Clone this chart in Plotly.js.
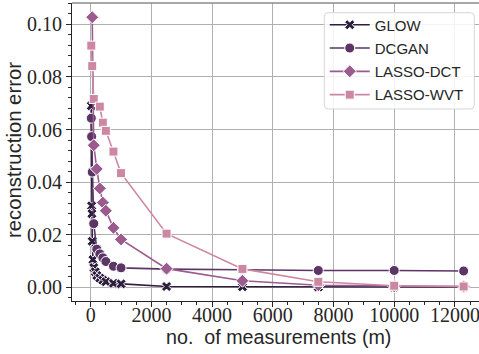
<!DOCTYPE html>
<html>
<head>
<meta charset="utf-8">
<script src="https://cdn.plot.ly/plotly-3.0.1.min.js"></script>
<style>html,body{margin:0;padding:0;background:#fff;}#chart{width:479px;height:354px;}</style>
</head>
<body>
<div id="chart"></div>
<script>
// Series data (x = number of measurements m, y = reconstruction error)
const glowM   = [20, 30, 40, 50, 75, 100, 150, 200, 300, 400, 500, 750, 1000, 2500, 5000, 7500, 10000, 12288];
const glowErr = [0.069, 0.031, 0.028, 0.0175, 0.0105, 0.0075, 0.0059, 0.0045, 0.0035, 0.0027, 0.0021, 0.0015, 0.0013, 0.0003, 0.0002, 0.0001, 0.0001, 0.0001];

const dcganM   = [20, 30, 50, 100, 200, 300, 400, 500, 750, 1000, 2500, 5000, 7500, 10000, 12288];
const dcganErr = [0.0643, 0.0573, 0.0438, 0.0242, 0.0145, 0.0127, 0.0112, 0.0098, 0.0080, 0.0074, 0.0069, 0.0067, 0.0064, 0.0064, 0.0062];

const dctM   = [50, 100, 200, 300, 400, 500, 750, 1000, 2500, 5000, 7500, 10000, 12288];
const dctErr = [0.1027, 0.0540, 0.0450, 0.0376, 0.0322, 0.0291, 0.0226, 0.0182, 0.0071, 0.0025, 0.0008, 0.0004, 0.0003];

const wvtM   = [20, 50, 100, 300, 400, 500, 750, 1000, 2500, 5000, 7500, 10000, 12288];
const wvtErr = [0.0919, 0.0841, 0.0716, 0.0687, 0.0626, 0.0595, 0.0516, 0.0434, 0.0204, 0.0070, 0.0021, 0.0006, 0.0003];

const seriesNames = ['GLOW', 'DCGAN', 'LASSO-DCT', 'LASSO-WVT'];
const xTitle = 'no.&#160; of measurements (m)';
const yTitle = 'reconstruction error';

const colors  = ['#2d1e3e', '#5b3566', '#9b5b8e', '#cc87a2'];
const symbols = ['x', 'circle', 'diamond', 'square'];
const sizes   = [9, 10, 10, 9];

const xs = [glowM, dcganM, dctM, wvtM];
const ys = [glowErr, dcganErr, dctErr, wvtErr];

const traces = seriesNames.map((n, i) => ({
  x: xs[i], y: ys[i], name: n, type: 'scatter', mode: 'lines+markers',
  legendgroup: 'g' + i,
  line: {color: colors[i], width: 1.6},
  marker: {symbol: symbols[i], size: sizes[i], color: colors[i], line: {color: '#ffffff', width: 1}}
}));

const tickFont = {family: 'Liberation Serif, serif', size: 20, color: '#262626'};
const sansFamily = 'Liberation Sans, Arial, sans-serif';

// legend frame (paper coords of the plot area)
const lx0 = 0.6199, lx1 = 0.9885, ly0 = 0.6443, ly1 = 0.9674;
const rx = 4 / 407, ry = 4 / 298;
const framePath = `M${lx0 + rx},${ly1} L${lx1 - rx},${ly1} Q${lx1},${ly1} ${lx1},${ly1 - ry} ` +
  `L${lx1},${ly0 + ry} Q${lx1},${ly0} ${lx1 - rx},${ly0} L${lx0 + rx},${ly0} Q${lx0},${ly0} ${lx0},${ly0 + ry} ` +
  `L${lx0},${ly1 - ry} Q${lx0},${ly1} ${lx0 + rx},${ly1} Z`;

const layout = {
  width: 479, height: 354,
  margin: {l: 72, r: 0, t: 3, b: 53, pad: 0},
  paper_bgcolor: '#ffffff', plot_bgcolor: '#ffffff',
  showlegend: true,
  legend: {
    x: 0.621, y: 0.9816, xanchor: 'left', yanchor: 'top',
    bgcolor: 'rgba(0,0,0,0)', borderwidth: 0,
    font: {family: sansFamily, size: 15, color: '#262626'},
    itemwidth: 40, tracegroupgap: 0.8
  },
  xaxis: {
    range: [-616, 12794], tickmode: 'linear', tick0: 0, dtick: 2000, tickformat: 'd',
    ticks: 'outside', ticklen: 5, tickwidth: 1, tickcolor: '#262626',
    showline: true, linecolor: '#262626', linewidth: 1, mirror: false,
    showgrid: true, gridcolor: '#b0b0b0', gridwidth: 1, zeroline: false,
    tickfont: tickFont, ticklabeloverflow: 'allow', ticklabelstandoff: -9,
    minor: {dtick: 500, tick0: 0, ticks: 'outside', ticklen: 3, tickwidth: 1, tickcolor: '#262626', showgrid: false},
    automargin: false
  },
  yaxis: {
    range: [-0.00521, 0.1081], tickmode: 'linear', tick0: 0, dtick: 0.02, tickformat: '.2f',
    ticks: 'outside', ticklen: 5, tickwidth: 1, tickcolor: '#262626',
    showline: true, linecolor: '#262626', linewidth: 1, mirror: false,
    showgrid: true, gridcolor: '#b0b0b0', gridwidth: 1, zeroline: false,
    tickfont: tickFont,
    minor: {dtick: 0.004, tick0: 0, ticks: 'outside', ticklen: 3, tickwidth: 1, tickcolor: '#262626', showgrid: false},
    automargin: false
  },
  annotations: [
    {text: xTitle, xref: 'paper', yref: 'paper', x: 0.5074, y: -0.1208, xanchor: 'center', yanchor: 'middle',
     showarrow: false, font: {family: sansFamily, size: 19.7, color: '#262626'}},
    {text: yTitle, xref: 'paper', yref: 'paper', x: -0.1425, y: 0.507, xanchor: 'center', yanchor: 'middle',
     textangle: -90, showarrow: false, font: {family: sansFamily, size: 20.3, color: '#262626'}}
  ],
  shapes: [
    {type: 'line', xref: 'paper', yref: 'paper', x0: 0, x1: 1, y0: 1, y1: 1,
     line: {color: '#8a8a8a', width: 1.5}},
    {type: 'path', xref: 'paper', yref: 'paper', path: framePath, layer: 'above',
     fillcolor: 'rgba(255,255,255,0.85)', line: {color: '#d6d6d6', width: 1}}
  ]
};

Plotly.newPlot('chart', traces, layout, {displayModeBar: false, staticPlot: true});
</script>
</body>
</html>
